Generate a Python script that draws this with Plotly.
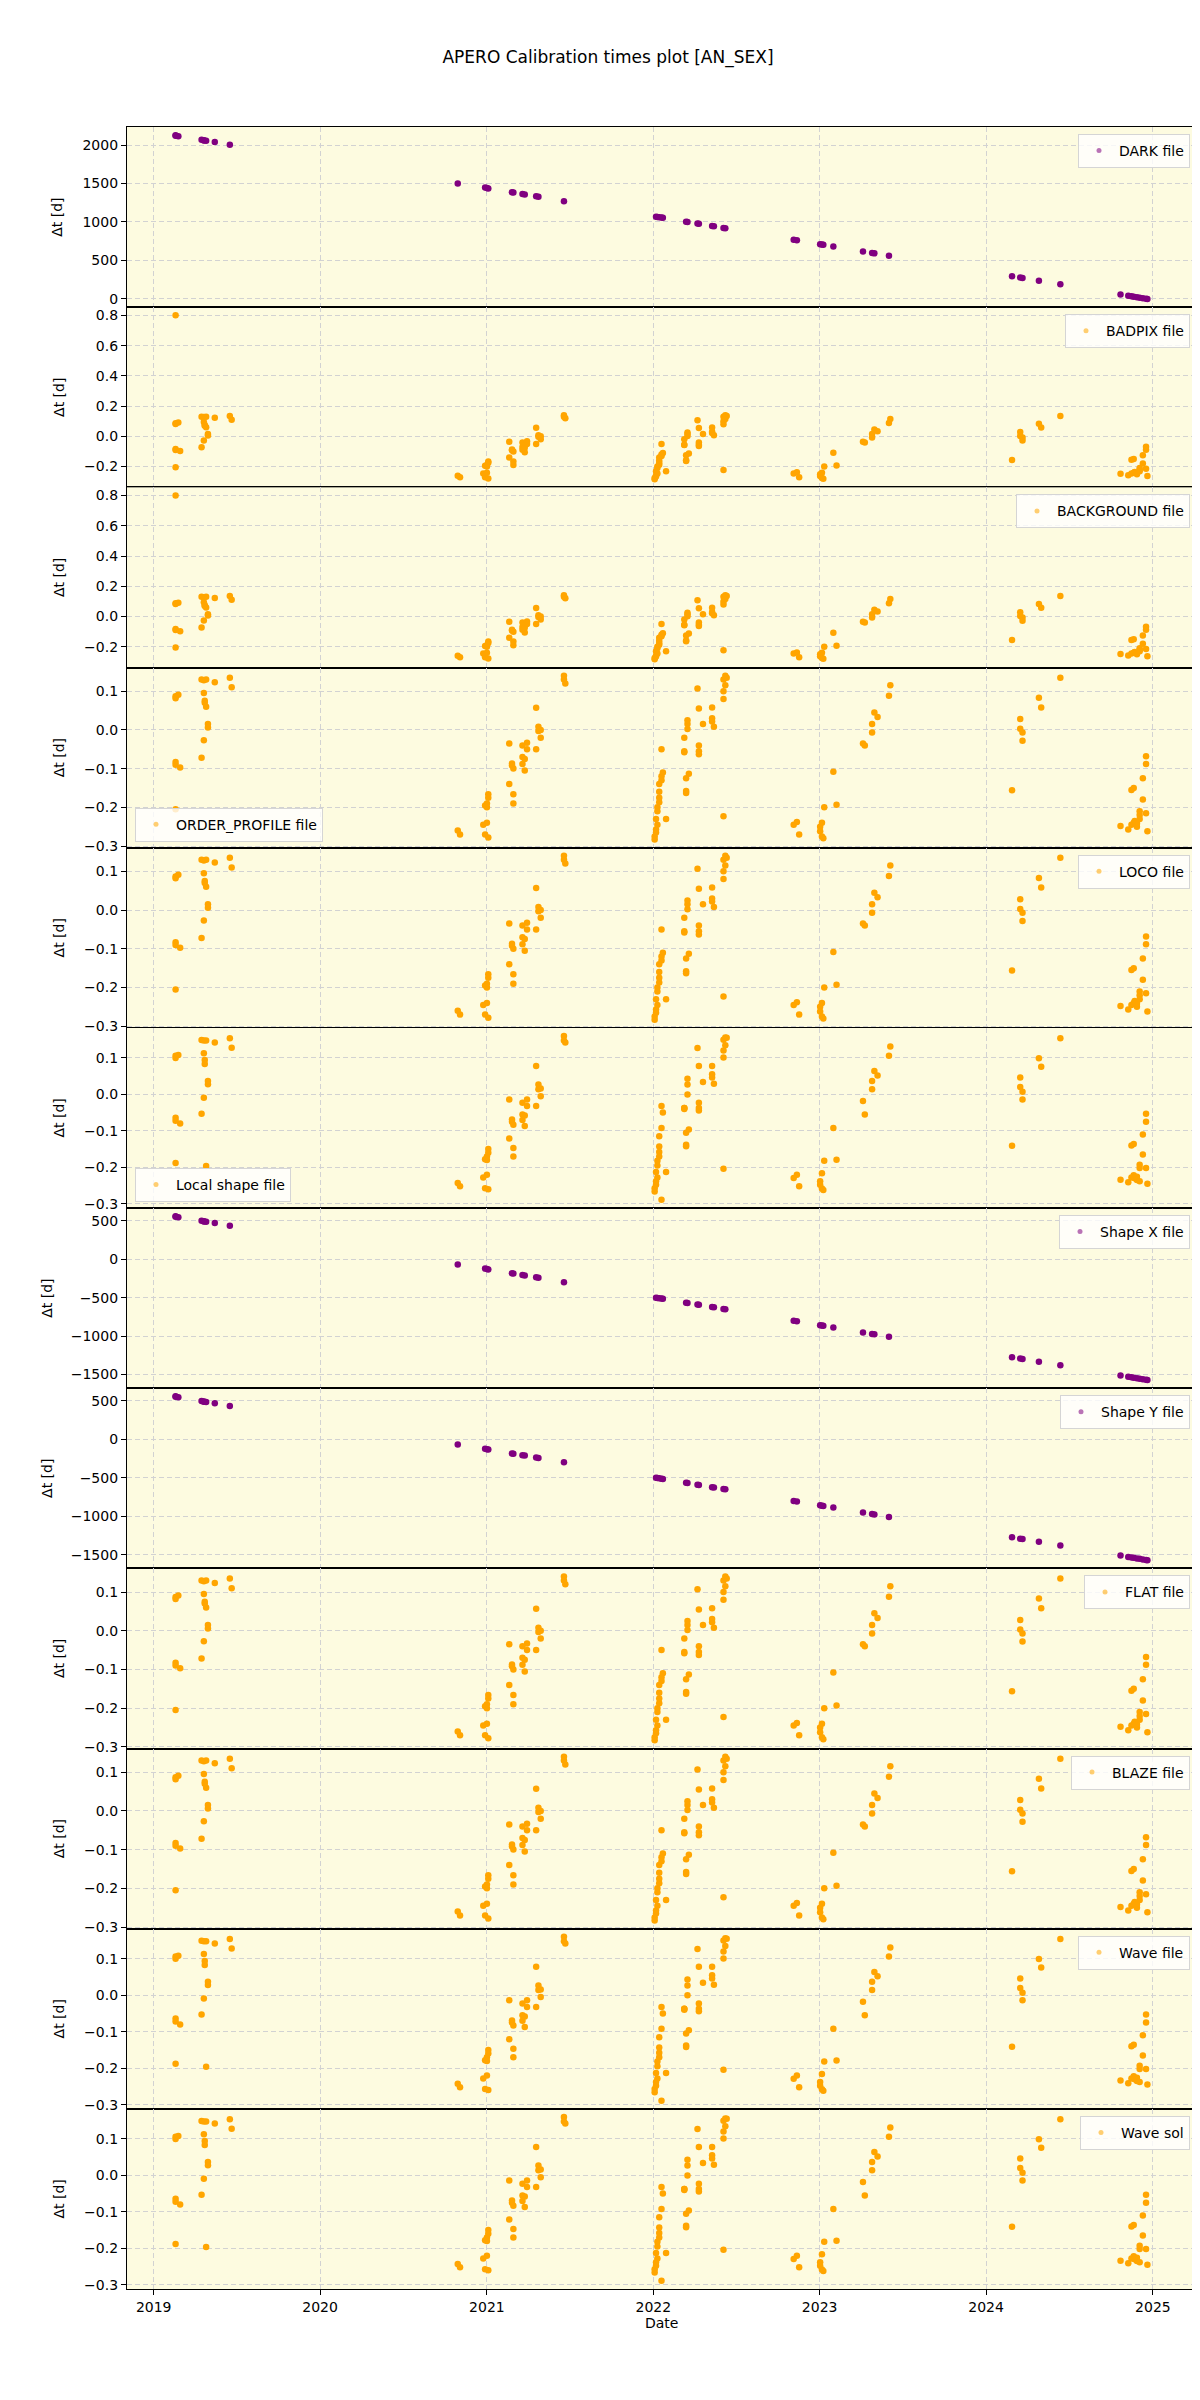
import plotly.graph_objects as go
from plotly.subplots import make_subplots
import pandas as pd

# ---- data (dates of calibration files, dt in days)
DARK_DATES = [
    "2019-02-18", "2019-02-18", "2019-02-24", "2019-04-16", "2019-04-21", "2019-04-21",
    "2019-04-26", "2019-05-15", "2019-06-17",
    "2020-10-29", "2020-12-28", "2021-01-01", "2021-01-04", "2021-02-25", "2021-02-28",
    "2021-03-20", "2021-03-25", "2021-04-19", "2021-04-24", "2021-06-19",
    "2022-01-07", "2022-01-10", "2022-01-14", "2022-01-19", "2022-01-22", "2022-03-14",
    "2022-03-17", "2022-04-08", "2022-04-11", "2022-05-10", "2022-05-14", "2022-06-04",
    "2022-06-08",
    "2022-11-05", "2022-11-12", "2023-01-02", "2023-01-06", "2023-01-09", "2023-01-31",
    "2023-04-06", "2023-04-26", "2023-05-01", "2023-06-02",
    "2024-02-27", "2024-03-16", "2024-03-21", "2024-04-26", "2024-06-12",
    "2024-10-22", "2024-11-08", "2024-11-15", "2024-11-20", "2024-11-27", "2024-12-03",
    "2024-12-10", "2024-12-17", "2024-12-20",
]
DARK_DT = [
    2128, 2122, 2115, 2068, 2062, 2058,
    2055, 2038, 2004,
    1501, 1446, 1440, 1436, 1385, 1382,
    1362, 1357, 1332, 1327, 1270,
    1068, 1065, 1061, 1056, 1053, 1003,
    1000, 978, 975, 946, 942, 922,
    918,
    767, 760, 710, 706, 703, 681,
    616, 596, 591, 559,
    294, 276, 271, 235, 188,
    56, 39, 32, 27, 20, 14,
    7, 0, -3,
]
SHAPE_DT = [
    560, 554, 547, 500, 494, 490,
    487, 470, 436,
    -67, -122, -128, -132, -183, -186,
    -206, -211, -236, -241, -298,
    -500, -503, -507, -512, -515, -565,
    -568, -590, -593, -622, -626, -646,
    -650,
    -801, -808, -858, -862, -865, -887,
    -952, -972, -977, -1009,
    -1274, -1292, -1297, -1333, -1380,
    -1512, -1529, -1536, -1541, -1548, -1554,
    -1561, -1568, -1571,
]

# order profile / loco / flat / blaze
BASE_DATES = [
    "2019-02-18", "2019-02-18", "2019-02-18", "2019-02-18", "2019-02-18", "2019-02-24",
    "2019-02-28", "2019-04-16", "2019-04-16", "2019-04-21", "2019-04-21", "2019-04-21",
    "2019-04-23", "2019-04-23", "2019-04-26", "2019-04-26", "2019-04-30", "2019-04-30",
    "2019-05-15", "2019-06-17", "2019-06-21",
    "2020-10-29", "2020-11-03", "2020-12-24", "2020-12-28", "2020-12-28",
    "2021-01-01", "2021-01-01", "2021-01-01", "2021-01-04", "2021-01-04", "2021-01-04",
    "2021-02-19", "2021-02-19", "2021-02-25", "2021-02-25", "2021-02-28", "2021-02-28",
    "2021-02-28", "2021-03-20", "2021-03-20", "2021-03-20", "2021-03-25", "2021-03-25",
    "2021-03-30", "2021-03-30", "2021-04-19", "2021-04-19", "2021-04-24", "2021-04-24",
    "2021-04-29", "2021-04-29", "2021-06-19", "2021-06-19", "2021-06-22",
    "2022-01-04", "2022-01-04", "2022-01-07", "2022-01-07", "2022-01-07", "2022-01-10",
    "2022-01-10", "2022-01-10", "2022-01-14", "2022-01-14", "2022-01-14", "2022-01-14",
    "2022-01-19", "2022-01-19", "2022-01-19", "2022-01-22", "2022-01-29",
    "2022-03-10", "2022-03-10", "2022-03-10", "2022-03-14", "2022-03-14", "2022-03-14",
    "2022-03-17", "2022-03-17", "2022-03-17", "2022-03-20", "2022-04-08", "2022-04-11",
    "2022-04-11", "2022-04-11", "2022-04-11", "2022-04-20", "2022-05-10", "2022-05-10",
    "2022-05-10", "2022-05-14", "2022-06-04", "2022-06-04", "2022-06-04", "2022-06-04",
    "2022-06-08", "2022-06-08", "2022-06-11",
    "2022-11-05", "2022-11-12", "2022-11-17", "2023-01-02", "2023-01-02", "2023-01-06",
    "2023-01-06", "2023-01-09", "2023-01-11", "2023-01-31", "2023-02-07",
    "2023-04-06", "2023-04-10", "2023-04-26", "2023-04-26", "2023-05-01", "2023-05-08",
    "2023-06-02", "2023-06-05",
    "2024-02-27", "2024-03-16", "2024-03-16", "2024-03-21", "2024-03-21", "2024-04-26",
    "2024-05-01", "2024-06-12",
    "2024-10-22", "2024-11-08", "2024-11-15", "2024-11-15", "2024-11-20", "2024-11-20",
    "2024-11-22", "2024-11-27", "2024-11-27", "2024-12-03", "2024-12-03", "2024-12-03",
    "2024-12-10", "2024-12-10", "2024-12-17", "2024-12-17", "2024-12-17", "2024-12-20",
]
BASE_DT = [
    0.082, 0.087, -0.083, -0.090, -0.205, 0.091,
    -0.097, 0.130, -0.072, 0.128, 0.095, -0.027,
    0.075, 0.070, 0.130, 0.060, 0.015, 0.006,
    0.123, 0.135, 0.110,
    -0.260, -0.270, -0.245, -0.195, -0.270,
    -0.200, -0.190, -0.240, -0.166, -0.175, -0.278,
    -0.035, -0.140, -0.087, -0.092, -0.166, -0.190,
    -0.100, -0.040, -0.070, -0.088, -0.105, -0.075,
    -0.033, -0.050, 0.057, -0.050, 0.008, -0.003,
    -0.020, 0.000, 0.140, 0.130, 0.120,
    -0.283, -0.275, -0.265, -0.257, -0.230, -0.245,
    -0.200, -0.210, -0.187, -0.175, -0.160, -0.140,
    -0.120, -0.050, -0.130, -0.110, -0.230,
    -0.020, -0.058, -0.055, -0.125, -0.158, -0.163,
    0.002, 0.015, 0.025, -0.113, 0.107, 0.055,
    -0.040, -0.055, -0.063, 0.015, 0.058, 0.030,
    0.022, 0.008, 0.130, 0.100, 0.080, -0.223,
    0.140, 0.115, 0.135,
    -0.245, -0.238, -0.270, -0.250, -0.262, -0.240,
    -0.275, -0.280, -0.200, -0.108, -0.193,
    -0.035, -0.040, -0.007, 0.015, 0.045, 0.033,
    0.088, 0.115,
    -0.156, 0.028, 0.003, -0.007, -0.028, 0.083,
    0.058, 0.135,
    -0.248, -0.257, -0.155, -0.245, -0.150, -0.240,
    -0.235, -0.250, -0.242, -0.210, -0.220, -0.230,
    -0.180, -0.125, -0.088, -0.068, -0.215, -0.262,
]
# badpix / background carry one extra early point
EXTRA_DATES = ["2019-02-18"]
EXTRA_DT = [0.800]

# local shape / wave file / wave sol
LOCAL_DATES = BASE_DATES
LOCAL_DT = [
    0.100, 0.106, -0.064, -0.072, -0.188, 0.108,
    -0.080, 0.149, -0.053, 0.148, 0.113, -0.009,
    0.094, 0.083, 0.148, -0.196, 0.037, 0.028,
    0.142, 0.154, 0.128,
    -0.243, -0.252, -0.228, -0.178, -0.257,
    -0.180, -0.170, -0.220, -0.150, -0.160, -0.260,
    -0.014, -0.121, -0.069, -0.075, -0.147, -0.170,
    -0.083, -0.023, -0.055, -0.070, -0.087, -0.058,
    -0.014, -0.032, 0.078, -0.032, 0.027, 0.014,
    -0.005, 0.016, 0.160, 0.148, 0.142,
    -0.266, -0.257, -0.248, -0.238, -0.213, -0.228,
    -0.182, -0.195, -0.170, -0.158, -0.143, -0.115,
    -0.289, -0.032, -0.092, -0.050, -0.213,
    -0.037, -0.040, -0.037, -0.105, -0.138, -0.142,
    0.000, 0.027, 0.043, -0.096, 0.127, 0.078,
    -0.023, -0.037, -0.044, 0.034, 0.078, 0.055,
    0.046, 0.029, 0.150, 0.120, 0.101, -0.204,
    0.156, 0.135, 0.155,
    -0.229, -0.220, -0.252, -0.238, -0.248, -0.216,
    -0.258, -0.262, -0.182, -0.092, -0.179,
    -0.018, -0.055, 0.014, 0.037, 0.064, 0.052,
    0.106, 0.131,
    -0.141, 0.046, 0.020, 0.007, -0.014, 0.099,
    0.076, 0.154,
    -0.234, -0.241, -0.140, -0.228, -0.136, -0.222,
    -0.230, -0.235, -0.226, -0.193, -0.202, -0.238,
    -0.165, -0.110, -0.075, -0.053, -0.202, -0.245,
]

LABELS = ["DARK file", "BADPIX file", "BACKGROUND file", "ORDER_PROFILE file",
          "LOCO file", "Local shape file", "Shape X file", "Shape Y file",
          "FLAT file", "BLAZE file", "Wave file", "Wave sol"]

PURPLE = "#800080"
ORANGE = "#FFA500"
FONT = "DejaVu Sans"

# (dates, values, colour, legend corner, y dtick, y tick format, y-title standoff)
panels = [
    (DARK_DATES, DARK_DT, PURPLE, "ur", 500, "d", 16),
    (EXTRA_DATES + BASE_DATES, EXTRA_DT + BASE_DT, ORANGE, "ur", 0.2, ".1f", 16),
    (EXTRA_DATES + BASE_DATES, EXTRA_DT + BASE_DT, ORANGE, "ur", 0.2, ".1f", 16),
    (BASE_DATES, BASE_DT, ORANGE, "ll", 0.1, ".1f", 16),
    (BASE_DATES, BASE_DT, ORANGE, "ur", 0.1, ".1f", 16),
    (LOCAL_DATES, LOCAL_DT, ORANGE, "ll", 0.1, ".1f", 16),
    (DARK_DATES, SHAPE_DT, PURPLE, "ur", 500, "d", 14),
    (DARK_DATES, SHAPE_DT, PURPLE, "ur", 500, "d", 14),
    (BASE_DATES, BASE_DT, ORANGE, "ur", 0.1, ".1f", 16),
    (BASE_DATES, BASE_DT, ORANGE, "ur", 0.1, ".1f", 16),
    (LOCAL_DATES, LOCAL_DT, ORANGE, "ur", 0.1, ".1f", 16),
    (LOCAL_DATES, LOCAL_DT, ORANGE, "ur", 0.1, ".1f", 16),
]

W, H = 1200, 2400
ML, MR, MT, MB = 119, 12, 119, 119
PW, PH = W - ML - MR, H - MT - MB
N = len(panels)

fig = make_subplots(rows=N, cols=1, shared_xaxes=True, vertical_spacing=0)

all_dates = pd.to_datetime(DARK_DATES + BASE_DATES)
span = all_dates.max() - all_dates.min()
xr = [all_dates.min() - span * 0.05, all_dates.max() + span * 0.05]

legends = {}
for i, (dates, vals, col, loc, dtick, fmt, stand) in enumerate(panels):
    row = i + 1
    lname = "legend" if i == 0 else f"legend{i + 1}"
    fig.add_trace(go.Scatter(
        x=dates, y=vals, mode="markers",
        marker=dict(color=col, size=6.5, line=dict(width=0)),
        showlegend=False, hoverinfo="x+y"), row=row, col=1)
    # legend entry (lighter marker like the reference)
    fig.add_trace(go.Scatter(
        x=[None], y=[None], mode="markers", name=LABELS[i],
        marker=dict(color=col, size=5, opacity=0.55),
        legend=lname), row=row, col=1)

    top = 1 - i / N
    bot = 1 - (i + 1) / N
    if loc == "ur":
        lpos = dict(x=1 - 6 / PW, xanchor="right", y=top - 7 / PH, yanchor="top")
    else:
        lpos = dict(x=8 / PW, xanchor="left", y=bot + 6 / PH, yanchor="bottom")
    legends[lname] = dict(
        **lpos, bgcolor="rgba(255,255,255,0.8)", bordercolor="#d5d5d5", borderwidth=1,
        font=dict(family=FONT, size=14, color="black"), itemwidth=30,
        tracegroupgap=0)

    lo, hi = min(vals), max(vals)
    pad = (hi - lo) * 0.05
    fig.update_yaxes(
        range=[lo - pad, hi + pad], dtick=dtick, tickformat=fmt,
        title=dict(text="Δt [d]", font=dict(family=FONT, size=14), standoff=stand),
        row=row, col=1)

fig.update_yaxes(
    automargin=False,
    showline=True, mirror=True, linecolor="black", linewidth=1.2,
    ticks="outside", ticklen=5, tickcolor="black",
    showgrid=True, gridcolor="#d2d2d2", griddash="5px,3px", gridwidth=1,
    zeroline=False, tickfont=dict(family=FONT, size=14, color="black"))
fig.update_xaxes(
    automargin=False,
    type="date", range=xr, dtick="M12", tick0="2019-01-01", tickformat="%Y",
    showline=True, mirror=True, linecolor="black", linewidth=1.2,
    showgrid=True, gridcolor="#d2d2d2", griddash="5px,3px", gridwidth=1,
    zeroline=False, tickfont=dict(family=FONT, size=14, color="black"))
fig.update_xaxes(ticks="outside", ticklen=5, tickcolor="black", row=N, col=1)

# x-axis label placed like matplotlib's xlabel
fig.add_annotation(text="Date", x=0.5, xref="paper", y=-(2315 - (H - MB)) / PH,
                   yref="paper", yanchor="middle", showarrow=False,
                   font=dict(family=FONT, size=14, color="black"))

fig.update_layout(
    width=W, height=H,
    margin=dict(l=ML, r=MR, t=MT, b=MB),
    paper_bgcolor="white", plot_bgcolor="#FDFBE0",
    font=dict(family=FONT, size=14, color="black"),
    title=dict(text="APERO Calibration times plot [AN_SEX]", x=0.5, xanchor="center",
               xref="container", y=1 - 49 / H, yanchor="middle",
               font=dict(family=FONT, size=17, color="black")),
    **legends,
)

fig.write_html("out.html")
